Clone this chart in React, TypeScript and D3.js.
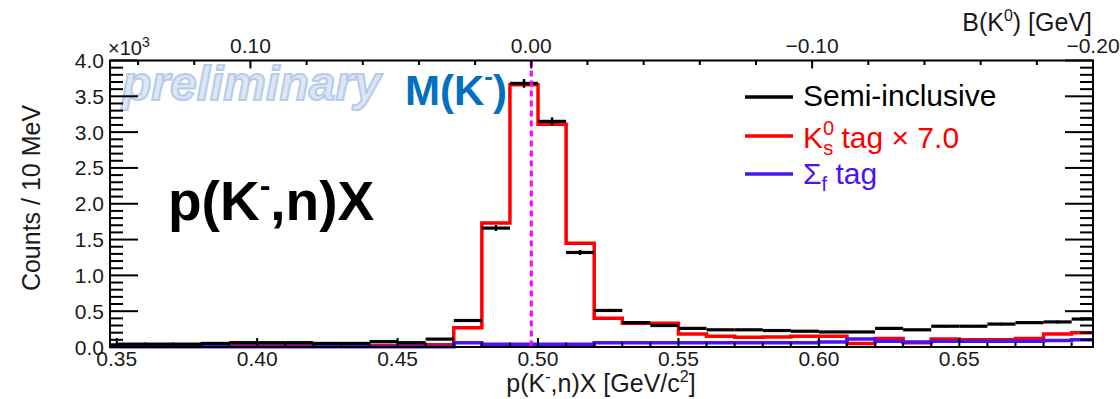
import * as d3 from 'd3';

// bin lower edges (10 MeV bins), GeV/c^2
const binStarts = [
    0.34, 0.35, 0.36, 0.37, 0.38, 0.39, 0.40, 0.41, 0.42, 0.43, 0.44, 0.45,
    0.46, 0.47, 0.48, 0.49, 0.50, 0.51, 0.52, 0.53, 0.54, 0.55, 0.56, 0.57,
    0.58, 0.59, 0.60, 0.61, 0.62, 0.63, 0.64, 0.65, 0.66, 0.67, 0.68, 0.69,
];
const binWidth = 0.01;

// counts x10^3
const semiInclusive = [
    0.03, 0.04, 0.04, 0.04, 0.05, 0.06, 0.06, 0.06, 0.05, 0.05, 0.075, 0.06,
    0.11, 0.37, 1.66, 3.68, 3.15, 1.32, 0.51, 0.34, 0.30, 0.26, 0.24, 0.24,
    0.23, 0.22, 0.21, 0.21, 0.26, 0.24, 0.29, 0.29, 0.32, 0.34, 0.35, 0.39,
];
const ksTag = [
    0.015, 0.015, 0.015, 0.015, 0.015, 0.02, 0.02, 0.02, 0.02, 0.02, 0.02, 0.02,
    0.03, 0.27, 1.73, 3.66, 3.11, 1.45, 0.40, 0.33, 0.33, 0.18, 0.15, 0.135,
    0.14, 0.15, 0.15, 0.05, 0.12, 0.06, 0.11, 0.10, 0.10, 0.12, 0.18, 0.20,
];
const sigmaTag = [
    0.005, 0.005, 0.005, 0.005, 0.005, 0.005, 0.005, 0.005, 0.005, 0.005, 0.005, 0.005,
    0.005, 0.06, 0.04, 0.04, 0.04, 0.04, 0.06, 0.06, 0.06, 0.06, 0.06, 0.06,
    0.06, 0.06, 0.07, 0.11, 0.08, 0.07, 0.08, 0.08, 0.08, 0.08, 0.09, 0.10,
];

const bottomTicks = [0.35, 0.4, 0.45, 0.5, 0.55, 0.6, 0.65];
const bottomTickLabels = ['0.35', '0.40', '0.45', '0.50', '0.55', '0.60', '0.65'];
const topTicks = [0.1, 0, -0.1, -0.2];
const topTickLabels = ['0.10', '0.00', '\u22120.10', '\u22120.20'];
const yTicks = [0, 0.5, 1, 1.5, 2, 2.5, 3, 3.5, 4];
const yTickLabels = ['0.0', '0.5', '1.0', '1.5', '2.0', '2.5', '3.0', '3.5', '4.0'];

const massK0 = 0.4976;
const xMin = 0.3476;
const xMax = 0.6976;

const W = 1120;
const H = 399;
const frame = { left: 110, right: 1093, top: 60.5, bottom: 347 };
const font = '"Liberation Sans", Arial, sans-serif';
const ink = '#1a1a1a';
const blue = '#4a14f2';

export default function App() {
    const x = d3.scaleLinear().domain([xMin, xMax]).range([frame.left, frame.right]);
    const xTop = d3
        .scaleLinear()
        .domain([massK0 - xMin, massK0 - xMax])
        .range([frame.left, frame.right]);
    const y = d3.scaleLinear().domain([0, 4]).range([frame.bottom, frame.top]);

    const bins = binStarts.map((lo, i) => ({
        lo: Math.max(lo, xMin),
        hi: Math.min(lo + binWidth, xMax),
        semi: semiInclusive[i],
        ks: ksTag[i],
        sig: sigmaTag[i],
    }));

    const stepPath = (key: 'ks' | 'sig') => {
        const pts: [number, number][] = bins.map((b) => [b.lo, b[key]]);
        const last = bins[bins.length - 1];
        pts.push([last.hi, last[key]]);
        return (
            d3
                .line<[number, number]>()
                .x((d) => x(d[0]))
                .y((d) => y(d[1]))
                .curve(d3.curveStepAfter)(pts) || ''
        );
    };

    const minorBottom = d3.range(35, 70).map((v) => v / 100);
    const minorTop = d3.range(14, -21, -2).map((v) => v / 100);
    const minorY = d3.range(0, 41).map((v) => v / 10);

    return (
        <svg
            width={W}
            height={H}
            viewBox={`0 0 ${W} ${H}`}
            style={{ position: 'absolute', left: 0, top: 0, background: '#fff' }}
            fontFamily={font}
        >
            {/* watermark + annotations */}
            <text
                x={122}
                y={100}
                fontSize={48}
                fontWeight="bold"
                fontStyle="italic"
                fill="#dce6f5"
                stroke="#b7cbea"
                strokeWidth={2}
            >
                preliminary
            </text>
            <text x={405} y={105} fontSize={42} fontWeight="bold" fill="#0070c0">
                M(K
                <tspan fontSize={26} dy={-20}>
                    -
                </tspan>
                <tspan dy={20}>)</tspan>
            </text>
            <text x={168} y={220} fontSize={55} fontWeight="bold" fill="#000">
                p(K
                <tspan fontSize={32} dy={-24}>
                    -
                </tspan>
                <tspan dy={24}>,n)X</tspan>
            </text>

            {/* histograms */}
            <path d={stepPath('ks')} fill="none" stroke="#ff0000" strokeWidth={3.5} />
            <path d={stepPath('sig')} fill="none" stroke={blue} strokeWidth={3.5} />
            {bins.map((b, i) => {
                const err = Math.sqrt(b.semi * 1000) / 1000;
                const cx = x((b.lo + b.hi) / 2);
                return (
                    <g key={i} stroke="#000">
                        <line x1={x(b.lo)} x2={x(b.hi)} y1={y(b.semi)} y2={y(b.semi)} strokeWidth={3.2} />
                        <line x1={cx} x2={cx} y1={y(b.semi - err)} y2={y(b.semi + err)} strokeWidth={2.5} />
                    </g>
                );
            })}

            <line
                x1={x(massK0)}
                x2={x(massK0)}
                y1={frame.top}
                y2={frame.bottom}
                stroke="#ff00ff"
                strokeWidth={3}
                strokeDasharray="6 4"
            />

            {/* frame */}
            <rect
                x={frame.left}
                y={frame.top}
                width={frame.right - frame.left}
                height={frame.bottom - frame.top}
                fill="none"
                stroke="#000"
                strokeWidth={2}
            />

            {/* y ticks, both sides */}
            {minorY.map((v, i) => {
                const major = i % 5 === 0;
                const len = major ? 28 : 13;
                return (
                    <g key={i} stroke="#000" strokeWidth={2}>
                        <line x1={frame.left} x2={frame.left + len} y1={y(v)} y2={y(v)} />
                        <line x1={frame.right} x2={frame.right - len} y1={y(v)} y2={y(v)} />
                    </g>
                );
            })}
            {yTicks.map((v, i) => (
                <text
                    key={i}
                    x={104}
                    y={y(v)}
                    dy="0.36em"
                    textAnchor="end"
                    fontSize={21}
                    fill={ink}
                >
                    {yTickLabels[i]}
                </text>
            ))}
            <text x={108} y={55} fontSize={20} fill={ink}>
                ×10
                <tspan fontSize={14} dy={-8}>
                    3
                </tspan>
            </text>

            {/* bottom ticks */}
            {minorBottom.map((v, i) => {
                const major = Math.abs(v * 100 - Math.round(v * 20) * 5) < 1e-6;
                return (
                    <line
                        key={i}
                        x1={x(v)}
                        x2={x(v)}
                        y1={frame.bottom}
                        y2={frame.bottom - (major ? 9 : 4.5)}
                        stroke="#000"
                        strokeWidth={2}
                    />
                );
            })}
            {bottomTicks.map((v, i) => (
                <text key={i} x={x(v)} y={366} textAnchor="middle" fontSize={21} fill={ink}>
                    {bottomTickLabels[i]}
                </text>
            ))}
            <text x={601} y={392} textAnchor="middle" fontSize={25} fill={ink}>
                p(K
                <tspan fontSize={16} dy={-10}>
                    -
                </tspan>
                <tspan dy={10}>,n)X [GeV/c</tspan>
                <tspan fontSize={16} dy={-10}>
                    2
                </tspan>
                <tspan dy={10}>]</tspan>
            </text>

            {/* top ticks */}
            {minorTop.map((v, i) => {
                const major = Math.abs(v * 10 - Math.round(v * 10)) < 1e-6;
                return (
                    <line
                        key={i}
                        x1={xTop(v)}
                        x2={xTop(v)}
                        y1={frame.top}
                        y2={frame.top + (major ? 8 : 4.5)}
                        stroke="#000"
                        strokeWidth={2}
                    />
                );
            })}
            {topTicks.map((v, i) => (
                <text key={i} x={xTop(v)} y={53} textAnchor="middle" fontSize={21} fill={ink}>
                    {topTickLabels[i]}
                </text>
            ))}
            <text x={1092} y={31} textAnchor="end" fontSize={25} fill={ink}>
                B(K
                <tspan fontSize={16} dy={-10}>
                    0
                </tspan>
                <tspan dy={10}>) [GeV]</tspan>
            </text>

            {/* y title */}
            <text
                transform="translate(40, 198) rotate(-90)"
                textAnchor="middle"
                fontSize={25}
                fill={ink}
            >
                Counts / 10 MeV
            </text>

            {/* legend */}
            <g>
                <line x1={745} x2={793} y1={97} y2={97} stroke="#000" strokeWidth={3.5} />
                <text x={803} y={106} fontSize={30} fill="#000">
                    Semi-inclusive
                </text>
                <line x1={745} x2={793} y1={136} y2={136} stroke="#ff0000" strokeWidth={3.5} />
                <text x={803} y={148} fontSize={30} fill="#ff0000">
                    K
                    <tspan fontSize={20} dy={-13}>
                        0
                    </tspan>
                    <tspan fontSize={20} dx={-11} dy={20}>
                        s
                    </tspan>
                    <tspan dy={-7}> tag × 7.0</tspan>
                </text>
                <line x1={745} x2={793} y1={174} y2={174} stroke={blue} strokeWidth={3.5} />
                <text x={803} y={184} fontSize={30} fill={blue}>
                    Σ
                    <tspan fontSize={20} dy={7}>
                        f
                    </tspan>
                    <tspan dy={-7}> tag</tspan>
                </text>
            </g>
        </svg>
    );
}
